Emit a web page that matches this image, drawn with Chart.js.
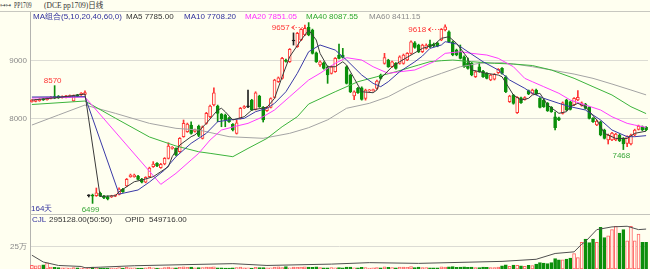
<!DOCTYPE html>
<html>
<head>
<meta charset="utf-8">
<script src="https://cdn.jsdelivr.net/npm/chart.js@4.4.1/dist/chart.umd.min.js"></script>
<style>
html, body { margin: 0; padding: 0; background: #fffff0; }
#wrap { position: relative; width: 650px; height: 269px; overflow: hidden; background: #fffff0; font-family: "Liberation Sans", Arial, sans-serif; }
.t { position: absolute; white-space: nowrap; font-size: 8px; line-height: 8px; }
.ln { position: absolute; }
canvas { position: absolute; left: 0; }
</style>
</head>
<body>
<div id="wrap">
  <canvas id="price" width="650" height="202" style="top:12px;width:650px;height:202px"></canvas>
  <canvas id="vol" width="650" height="55" style="top:214px;width:650px;height:55px"></canvas>

  <div class="ln" style="left:0;top:11px;width:650px;height:1px;background:#c8c8c0"></div>
  <div class="ln" style="left:30px;top:214px;width:620px;height:1px;background:#c4c4bc"></div>

  <div class="t" style="left:0;top:2px;font-family:'DejaVu Sans';font-size:8px;color:#555;transform:scaleX(.7);transform-origin:left">⊶⊶</div>
  <div class="t" style="left:14px;top:2px;font-family:'Liberation Serif';font-size:7.5px;color:#333;transform:scaleX(.75);transform-origin:left">PP1709</div>
  <div class="t" style="left:44px;top:2px;font-family:'Liberation Serif','Noto Sans CJK SC';font-size:7.5px;color:#333">(DCE pp1709)日线</div>

  <div class="t" style="left:33px;top:13px;color:#2f2f9c">MA组合(5,10,20,40,60,0)</div>
  <div class="t" style="left:126px;top:13px;color:#333">MA5 7785.00</div>
  <div class="t" style="left:184px;top:13px;color:#2f2f9c">MA10 7708.20</div>
  <div class="t" style="left:245px;top:13px;color:#ff30ff">MA20 7851.05</div>
  <div class="t" style="left:306px;top:13px;color:#2ea82e">MA40 8087.55</div>
  <div class="t" style="left:369px;top:13px;color:#8c8c8c">MA60 8411.15</div>

  <div class="t" style="left:31px;top:205px;color:#2f2f9c">164天</div>

  <div class="t" style="left:32px;top:216px;color:#2f2f9c">CJL</div>
  <div class="t" style="left:49px;top:216px;color:#333">295128.00(50:50)</div>
  <div class="t" style="left:125px;top:216px;color:#333">OPID</div>
  <div class="t" style="left:149px;top:216px;color:#333">549716.00</div>
</div>

<script>
// daily bars
const opens = [8295,8300,8310,8340,8330,8350,8380,8385,8365,8370,8380,8305,8410,8410,8420,
  6672,6680,6672,6719,6667,6655,6650,6665,6696,6783,6840,7000,7000,7012,6960,6905,7000,7172,7230,7155,7219,7317,7487,7490,7430,7690,7775,7891,7780,7870,
  7662,7920,8035,8236,8219,8076,8064,8017,7903,7748,8006,8185,8205,8322,8162,8391,8196,8138,8196,8368,8638,8696,9012,8982,9340,9241,9357,9443,9575,
  9529,9138,8926,8965,8896,8782,8810,9098,9098,8896,8753,8391,8524,8534,8352,8480,8485,8524,8753,8955,9012,8896,8955,8955,8955,9012,9127,9310,9271,9155,
  9213,9288,9288,9300,9357,9529,9500,9327,9184,9155,9069,8965,8955,8724,8896,8822,8782,8667,8680,8793,8868,8724,8293,8409,8103,8362,8330,8483,8437,
  8495,8351,8322,8265,8196,8034,8017,8093,8322,8293,8236,8322,8230,8253,8196,8006,7891,7948,7805,7633,7633,7633,7719,7660,7576,7564,7719,7817,7862,7850];
const highs = [8330,8335,8345,8350,8365,8380,8570,8400,8395,8405,8410,8410,8420,8450,8480,
  6690,6700,6805,6735,6680,6670,6680,6690,6810,6800,6970,7045,7045,7025,6970,7000,7165,7260,7245,7230,7330,7585,7520,7500,7675,7978,7925,7948,7820,7890,
  7875,8110,8235,8534,8235,8090,8080,8030,7915,7978,8195,8225,8495,8335,8465,8405,8210,8210,8360,8680,8720,9060,9030,9210,9480,9490,9555,9615,9657,
  9545,9150,9000,8980,8910,8910,9055,9288,9213,8910,8770,8480,8540,8550,8510,8505,8510,8665,8770,9127,9025,8995,8970,9085,9115,9140,9345,9330,9285,9285,
  9290,9357,9305,9315,9555,9618,9515,9340,9200,9271,9085,9046,8970,8825,8965,8835,8795,8765,8780,8865,8880,8740,8405,8420,8380,8375,8380,8495,8510,
  8510,8365,8335,8280,8210,8116,8030,8290,8335,8305,8365,8483,8290,8265,8210,8020,7975,7960,7820,7735,7765,7750,7735,7675,7705,7735,7820,7890,7875,7865];
const lows = [8285,8290,8300,8315,8320,8340,8345,8350,8355,8360,8370,8300,8380,8400,8410,
  6650,6540,6660,6655,6620,6600,6640,6655,6685,6730,6830,6990,6990,6945,6895,6895,6990,7160,7175,7145,7205,7305,7475,7360,7420,7680,7765,7735,7770,7690,
  7650,7905,8020,8220,7948,7862,7862,7935,7790,7735,7995,8175,8190,8140,8150,8195,7943,8125,8185,8355,8625,8680,8975,8970,9270,9230,9345,9430,9430,
  9115,8970,8900,8855,8610,8770,8800,9030,9045,8598,8450,8330,8435,8320,8320,8470,8475,8510,8685,8940,8885,8885,8855,8940,8940,9000,9115,9215,9140,9140,
  9200,9225,9240,9240,9345,9515,9315,9085,9085,9030,8885,8855,8740,8710,8800,8710,8685,8655,8668,8780,8770,8450,8280,8250,8090,8265,8320,8415,8425,
  8415,8185,8195,8125,8110,7805,7965,8080,8140,8150,8225,8310,8215,8165,7995,7935,7880,7705,7650,7564,7620,7620,7605,7468,7520,7550,7705,7805,7795,7795];
const closes = [8315,8320,8335,8325,8355,8365,8355,8360,8380,8395,8395,8400,8390,8440,8450,
  6672,6665,6724,6667,6633,6615,6667,6676,6788,6741,6955,7030,7030,6955,6905,6990,7150,7219,7185,7213,7317,7529,7505,7374,7660,7920,7909,7748,7805,7710,
  7860,8093,8219,8448,8093,7995,7978,7948,7805,7931,8179,8210,8205,8150,8448,8207,7978,8196,8345,8667,8707,9041,8987,9196,9340,9472,9541,9558,9443,
  9127,8982,8982,8868,8753,8896,9041,9041,9058,8610,8465,8465,8448,8334,8495,8490,8495,8650,8696,9052,8896,8982,8868,9069,9098,9127,9327,9231,9155,9271,
  9271,9241,9253,9253,9541,9586,9327,9098,9098,9041,8896,8868,8753,8810,8810,8724,8696,8753,8765,8851,8782,8465,8391,8265,8369,8276,8365,8426,8495,
  8426,8196,8207,8138,8121,7845,7978,8276,8150,8162,8351,8369,8276,8179,8006,7948,7960,7719,7662,7719,7753,7736,7620,7564,7690,7719,7805,7874,7805,7805];
const volumes = [40000,35000,38000,45000,68000,22000,18000,15000,12000,14000,10000,16000,12000,10000,14000,
  8000,22000,12000,9000,7000,6000,8000,9000,15000,11000,18000,12000,14000,10000,9000,
  12000,20000,14000,10000,11000,16000,22000,12000,13000,19000,24000,18000,20000,12000,17000,
  15000,20000,22000,25000,14000,12000,10000,9000,13000,15000,21000,12000,14000,11000,18000,
  15000,16000,12000,14000,20000,24000,16000,26000,13000,22000,18000,21000,23000,20000,19000,
  25000,17000,12000,13000,15000,14000,16000,12000,22000,20000,13000,12000,18000,15000,11000,
  12000,16000,14000,24000,18000,15000,14000,20000,22000,19000,26000,17000,20000,16000,15000,
  14000,13000,12000,25000,22000,24000,27000,18000,20000,24000,19000,22000,16000,15000,20000,
  18000,17000,16000,22000,35000,45000,30000,42000,40000,35000,30000,40000,38000,55000,70000,
  65000,60000,70000,115000,100000,100000,110000,120000,171000,126000,295000,329000,290000,329000,295000,
  460000,347000,366000,434000,471000,396000,434000,310000,471000,310000,385000,295000,295000];

// moving average lines, sampled along the curves in the picture
const ma5At = [0,7,14,18,22,23,27,29,32,36,37,39,42,43,46,49,50,51,53,56,58,62,64,66,68,71,73,75,76,78,80,82,83,85,87,90,91,92,95,97,100,103,106,108,110,112,115,116,120,123,124,127,129,131,132,134,136,139,141,142,144,146,149,151,154,157,159,162];
const ma5 = [8322,8366,8426,6660,6672,6740,6913,6943,7000,7173,7345,7546,7690,7719,7920,8150,8180,8120,7978,8034,8150,8196,8351,8724,9069,9357,9529,9357,9127,8896,8896,8982,8926,8696,8465,8448,8495,8696,8896,8982,9098,9213,9271,9386,9414,9300,9041,8840,8782,8753,8724,8409,8322,8351,8409,8438,8236,8093,8121,8207,8265,8207,7978,7748,7660,7660,7748,7785];
const ma10At = [0,14,23,28,31,35,38,42,44,46,49,52,56,59,62,64,67,70,73,76,80,83,87,90,92,94,97,101,103,105,108,109,112,115,119,123,126,130,132,135,139,142,146,150,153,157,159,162];
const ma10 = [8374,8380,6700,6771,6908,7116,7345,7576,7662,7748,7948,7978,8006,8121,8179,8265,8465,8782,9155,9271,9184,9012,8753,8610,8552,8638,8810,8982,9081,9213,9271,9328,9288,9155,8982,8840,8667,8524,8438,8352,8265,8207,8150,7978,7805,7690,7690,7708];
const ma20At = [0,14,34,38,42,44,47,50,54,57,61,64,68,71,73,76,80,83,87,90,94,97,101,103,106,109,113,116,120,123,127,130,132,135,139,142,146,150,153,157,159,162];
const ma20 = [8357,8374,6868,7058,7288,7403,7633,7805,7874,7920,8035,8150,8380,8552,8667,8783,8955,9052,9012,8896,8782,8810,8840,8896,8982,9127,9155,9127,9098,9041,8896,8696,8638,8552,8438,8322,8236,8150,8034,7920,7891,7851];
const ma40At = [0,14,22,31,38,44,47,53,57,62,66,70,73,80,86,91,96,102,105,108,111,116,122,127,132,137,143,148,153,158,162];
const ma40 = [8245,8305,8010,7685,7530,7430,7403,7345,7488,7660,7862,8034,8253,8465,8638,8724,8810,8926,8983,9000,9012,8983,8955,8943,8917,8840,8697,8552,8409,8207,8088];
const ma60At = [0,7,14,22,31,38,44,52,61,68,73,78,83,89,94,99,103,108,113,118,124,129,132,137,143,148,153,158,162];
const ma60 = [7891,8064,8236,8093,7920,7834,7805,7690,7662,7748,7845,7980,8180,8265,8380,8552,8667,8782,8896,8955,8966,8926,8897,8840,8770,8696,8598,8495,8411];

// open interest line in the volume panel
const opidAt = [0,3,7,13,14,18,27,53,62,79,89,102,124,133,138,143,145,146,149,153,157,160,162];
const opid = [152000,77000,39000,28000,14000,20000,36000,59000,39000,54000,70000,62000,84000,107000,171000,189000,272000,302000,434000,464000,471000,434000,440000];

const priceTicks = [8000, 9000];
const volTicks = [250000];

// labels printed next to the extreme bars
const marks = [
  { i: 6, text: '8570', side: 'high', arrow: false },
  { i: 16, text: '6499', side: 'low', arrow: false },
  { i: 73, text: '9657', side: 'high', arrow: true },
  { i: 109, text: '9618', side: 'high', arrow: true },
  { i: 156, text: '7468', side: 'low', arrow: false }
];

const RED = '#ff3434', VRED = '#ff6464', GREEN = '#0b8f0b', BLACK = '#222', BG = '#fffff0';
const FONT = '"Liberation Sans", Arial, sans-serif';
const N = opens.length;
const labels = opens.map((_, i) => i);
const up = labels.map(i => closes[i] > opens[i]);
const doji = labels.map(i => closes[i] === opens[i]);
const colorOf = labels.map(i => doji[i] ? BLACK : (up[i] ? RED : GREEN));

function spread(at, vals) {
  const out = new Array(N).fill(null);
  at.forEach((i, k) => { out[i] = vals[k]; });
  return out;
}

function maLine(vals, at, color) {
  return { type: 'line', data: spread(at, vals), borderColor: color, borderWidth: 1,
           pointRadius: 0, tension: 0, spanGaps: true, order: 0 };
}

const fixAxis = s => { s.width = 30; s.paddingTop = 0; s.paddingBottom = 0; };

const markPlugin = {
  id: 'marks',
  afterDatasetsDraw(chart) {
    const c = chart.ctx, xs = chart.scales.x, ys = chart.scales.y;
    c.save();
    c.font = '8px ' + FONT;
    c.textBaseline = 'middle';
    marks.forEach(m => {
      const x = xs.getPixelForValue(m.i);
      const isHigh = m.side === 'high';
      const yv = ys.getPixelForValue(isHigh ? highs[m.i] : lows[m.i]);
      c.fillStyle = c.strokeStyle = isHigh ? RED : '#3aa83a';
      if (m.arrow) {
        const y = Math.round(yv + 4) + 0.5;
        c.textAlign = 'right';
        c.fillText(m.text, x - 19, y);
        c.lineWidth = 1;
        c.beginPath();
        c.moveTo(x - 14, y - 2); c.lineTo(x - 17, y); c.lineTo(x - 14, y + 2);
        c.stroke();
        c.setLineDash([1, 2]);
        c.beginPath(); c.moveTo(x - 16, y); c.lineTo(x - 2, y); c.stroke();
        c.setLineDash([]);
      } else {
        c.textAlign = 'center';
        c.fillText(m.text, x - 2, isHigh ? yv - 4.5 : yv + 6);
      }
    });
    c.restore();
  }
};

new Chart(document.getElementById('price'), {
  type: 'bar',
  data: {
    labels,
    datasets: [
      maLine(ma5, ma5At, '#3a3a3a'),
      maLine(ma10, ma10At, '#3a3aa6'),
      maLine(ma20, ma20At, '#ff3cff'),
      maLine(ma40, ma40At, '#3cb43c'),
      maLine(ma60, ma60At, '#a4a4a4'),
      { type: 'bar', data: labels.map(i => [opens[i], closes[i]]),
        backgroundColor: labels.map(i => up[i] ? BG : colorOf[i]), borderColor: colorOf,
        borderWidth: 1, borderSkipped: false, barThickness: 3, minBarLength: 1, grouped: false, order: 1 },
      { type: 'bar', data: labels.map(i => [lows[i], highs[i]]),
        backgroundColor: colorOf, borderWidth: 0, barThickness: 1, grouped: false, order: 2 }
    ]
  },
  options: {
    responsive: false, animation: false, events: [],
    layout: { padding: { left: 0, right: 2, top: 0, bottom: 0 } },
    plugins: { legend: { display: false }, tooltip: { enabled: false } },
    scales: {
      x: { display: false, offset: true },
      y: {
        min: 6357, max: 9840,
        afterBuildTicks: s => { s.ticks = priceTicks.map(v => ({ value: v })); },
        afterFit: fixAxis,
        grid: { color: '#dcdcd4', drawTicks: false },
        border: { color: '#b4b4b0' },
        ticks: { color: '#8a8a8a', padding: 3, font: { size: 8, family: FONT }, callback: v => String(v) }
      }
    }
  },
  plugins: [markPlugin]
});

new Chart(document.getElementById('vol'), {
  type: 'bar',
  data: {
    labels,
    datasets: [
      { type: 'line', data: spread(opidAt, opid), borderColor: '#505050', borderWidth: 1,
        pointRadius: 0, tension: 0, spanGaps: true, order: 0 },
      { type: 'bar', data: volumes,
        backgroundColor: labels.map(i => closes[i] >= opens[i] ? BG : GREEN),
        borderColor: labels.map(i => closes[i] >= opens[i] ? VRED : GREEN),
        borderWidth: 1, borderSkipped: false, barThickness: 3, minBarLength: 1, order: 1 }
    ]
  },
  options: {
    responsive: false, animation: false, events: [],
    layout: { padding: { left: 0, right: 2, top: 0, bottom: 0 } },
    plugins: { legend: { display: false }, tooltip: { enabled: false } },
    scales: {
      x: { display: false, offset: true },
      y: {
        min: 0, max: 606000,
        afterBuildTicks: s => { s.ticks = volTicks.map(v => ({ value: v })); },
        afterFit: fixAxis,
        grid: { color: '#dcdcd4', drawTicks: false },
        border: { color: '#b4b4b0' },
        ticks: { color: '#8a8a8a', padding: 3, font: { size: 8, family: FONT }, callback: () => '25万' }
      }
    }
  }
});
</script>
</body>
</html>
